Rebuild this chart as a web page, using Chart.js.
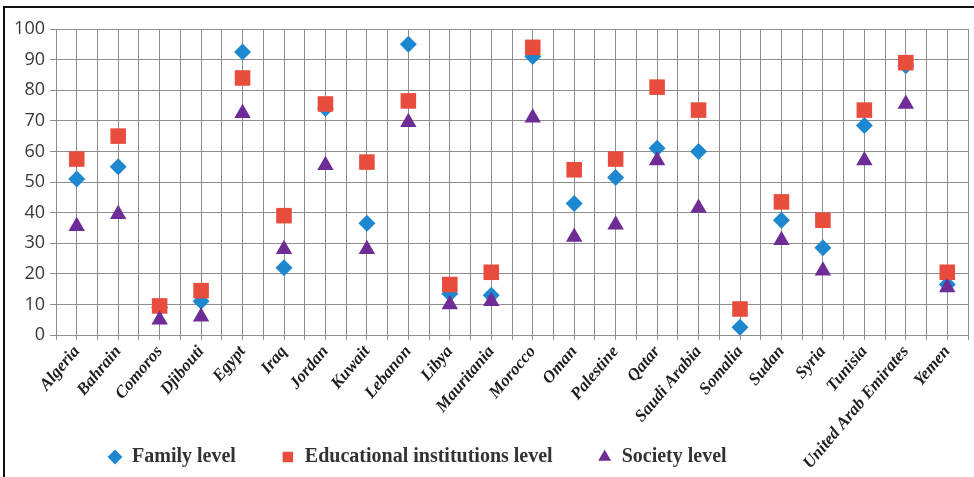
<!DOCTYPE html>
<html>
<head>
<meta charset="utf-8">
<script src="https://cdn.jsdelivr.net/npm/chart.js@4"></script>
<style>
  html, body { margin: 0; padding: 0; background: #fff; }
  #wrap { position: relative; width: 974px; height: 477px; overflow: hidden; }
  #frame { position: absolute; left: 3px; top: 6px; right: -6px; bottom: -6px;
           border-left: 2px solid #111; border-top: 2px solid #111; pointer-events: none; }
  canvas { display: block; }
</style>
</head>
<body>
<div id="wrap">
  <canvas id="chart" width="974" height="477"></canvas>
  <div id="frame"></div>
</div>
<script>
// Countries along the horizontal axis
const countries = [
  'Algeria', 'Bahrain', 'Comoros', 'Djibouti', 'Egypt', 'Iraq', 'Jordan', 'Kuwait',
  'Lebanon', 'Libya', 'Mauritania', 'Morocco', 'Oman', 'Palestine', 'Qatar',
  'Saudi Arabia', 'Somalia', 'Sudan', 'Syria', 'Tunisia', 'United Arab Emirates', 'Yemen'
];

// Series values (percent)
const familyLevel = [
  51, 55, 9, 11, 92.5, 22, 74, 36.5, 95, 13.5, 13, 91, 43, 51.5, 61, 60, 2.5, 37.5, 28.5, 68.5, 88, 16.5
];
const educationLevel = [
  57.5, 65, 9.5, 14.5, 84, 39, 75.5, 56.5, 76.5, 16.5, 20.5, 94, 54, 57.5, 81, 73.5, 8.5, 43.5, 37.5, 73.5, 89, 20.5
];
const societyLevel = [
  35.5, 39.5, 5, 6, 72.5, 28, 55.5, 28, 69.5, 10, 11, 71, 32, 36, 57, 41.5, null, 31, 21, 57, 75.5, 15.5
];

const seriesNames = ['Family level', 'Educational institutions level', 'Society level'];

// Value axis ticks
const yMin = 0, yMax = 100, yStep = 10;

// Each country sits at integer position i+1 on the horizontal scale
const toPoints = (values) => values.map((v, i) => ({ x: i + 1, y: v }));

const GRID = '#8e8e8e';

// Layout tweaks: the rotated country names may run down past the axis box
// (beside the legend), and the legend row starts a little inside the plot.
const layoutTweaks = {
  id: 'layoutTweaks',
  afterLayout(chart) {
    if (chart.scales.x) chart.scales.x.bottom = chart.height;
    if (chart.legend) chart.legend.left = chart.chartArea.left + 7;
  }
};

new Chart(document.getElementById('chart'), {
  type: 'scatter',
  data: {
    datasets: [
      {
        label: seriesNames[0],
        data: toPoints(familyLevel),
        pointStyle: 'rectRot',
        pointRadius: 8.5,
        pointBorderWidth: 0,
        backgroundColor: '#1d87cf',
        borderColor: '#1d87cf',
        order: 3
      },
      {
        label: seriesNames[1],
        data: toPoints(educationLevel),
        pointStyle: 'rect',
        pointRadius: 11,
        pointBorderWidth: 0,
        backgroundColor: '#e84c3d',
        borderColor: '#e84c3d',
        order: 2
      },
      {
        label: seriesNames[2],
        data: toPoints(societyLevel),
        pointStyle: 'triangle',
        pointRadius: 9.5,
        pointBorderWidth: 0,
        backgroundColor: '#6e2c96',
        borderColor: '#6e2c96',
        order: 1
      }
    ]
  },
  options: {
    responsive: false,
    animation: false,
    events: [],
    layout: { autoPadding: false, padding: { top: 29, right: 6, bottom: 0, left: 0 } },
    plugins: {
      legend: {
        position: 'bottom',
        align: 'start',
        fullSize: false,
        labels: {
          usePointStyle: true,
          boxWidth: 14,
          boxHeight: 10.5,
          padding: 45,
          color: '#333',
          font: { family: 'Liberation Serif', size: 20, weight: 'bold' },
          sort: (a, b) => a.datasetIndex - b.datasetIndex
        }
      },
      tooltip: { enabled: false }
    },
    scales: {
      x: {
        type: 'linear',
        min: 0.5,
        max: countries.length + 0.5,
        grid: { color: GRID, lineWidth: 1, drawTicks: true, tickLength: 5 },
        border: { color: GRID },
        ticks: {
          stepSize: 0.5,
          autoSkip: false,
          minRotation: 50,
          maxRotation: 50,
          padding: 2,
          color: '#1e1e1e',
          font: { family: 'Liberation Serif', size: 17, weight: 'bold', style: 'italic' },
          callback: (v) => Number.isInteger(v) ? countries[v - 1] : ''
        },
        afterFit(scale) {
          scale.height = 67;
          scale.paddingLeft = 0;
          scale.paddingRight = 0;
        }
      },
      y: {
        min: yMin,
        max: yMax,
        grid: { color: GRID, lineWidth: 1, drawTicks: true, tickLength: 6 },
        border: { color: GRID },
        ticks: {
          stepSize: yStep,
          padding: 5,
          color: '#383838',
          font: { family: 'Open Sans', size: 18 }
        },
        afterFit(scale) {
          scale.width = 56;
        }
      }
    }
  },
  plugins: [layoutTweaks]
});
</script>
</body>
</html>
